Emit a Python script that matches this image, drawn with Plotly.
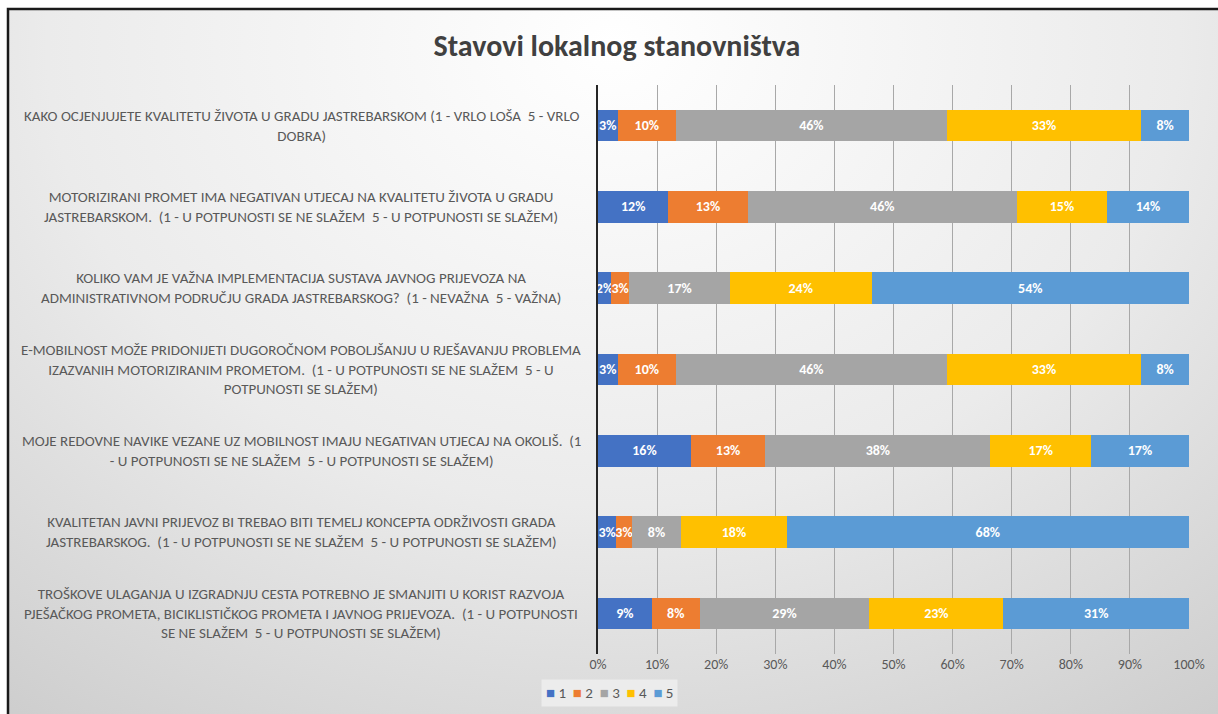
import base64
import plotly.graph_objects as go

# ---------------- data ----------------
questions = [
    "KAKO OCJENJUJETE KVALITETU ŽIVOTA U GRADU JASTREBARSKOM (1 - VRLO LOŠA  5 - VRLO<br>DOBRA)",
    "MOTORIZIRANI PROMET IMA NEGATIVAN UTJECAJ NA KVALITETU ŽIVOTA U GRADU<br>JASTREBARSKOM.  (1 - U POTPUNOSTI SE NE SLAŽEM  5 - U POTPUNOSTI SE SLAŽEM)",
    "KOLIKO VAM JE VAŽNA IMPLEMENTACIJA SUSTAVA JAVNOG PRIJEVOZA NA<br>ADMINISTRATIVNOM PODRUČJU GRADA JASTREBARSKOG?  (1 - NEVAŽNA  5 - VAŽNA)",
    "E-MOBILNOST MOŽE PRIDONIJETI DUGOROČNOM POBOLJŠANJU U RJEŠAVANJU PROBLEMA<br>IZAZVANIH MOTORIZIRANIM PROMETOM.  (1 - U POTPUNOSTI SE NE SLAŽEM  5 - U<br>POTPUNOSTI SE SLAŽEM)",
    "MOJE REDOVNE NAVIKE VEZANE UZ MOBILNOST IMAJU NEGATIVAN UTJECAJ NA OKOLIŠ.  (1<br>- U POTPUNOSTI SE NE SLAŽEM  5 - U POTPUNOSTI SE SLAŽEM)",
    "KVALITETAN JAVNI PRIJEVOZ BI TREBAO BITI TEMELJ KONCEPTA ODRŽIVOSTI GRADA<br>JASTREBARSKOG.  (1 - U POTPUNOSTI SE NE SLAŽEM  5 - U POTPUNOSTI SE SLAŽEM)",
    "TROŠKOVE ULAGANJA U IZGRADNJU CESTA POTREBNO JE SMANJITI U KORIST RAZVOJA<br>PJEŠAČKOG PROMETA, BICIKLISTIČKOG PROMETA I JAVNOG PRIJEVOZA.  (1 - U POTPUNOSTI<br>SE NE SLAŽEM  5 - U POTPUNOSTI SE SLAŽEM)",
]
series_names = ["1", "2", "3", "4", "5"]
ocjena_1 = [3.3, 11.9, 2.2, 3.3, 15.7, 3.1, 9.1]
ocjena_2 = [9.9, 13.4, 3.1, 9.9, 12.6, 2.6, 8.1]
ocjena_3 = [45.8, 45.6, 17.0, 45.8, 38.1, 8.4, 28.7]
ocjena_4 = [32.9, 15.2, 24.0, 32.9, 17.0, 17.8, 22.7]
ocjena_5 = [8.1, 13.9, 53.7, 8.1, 16.6, 68.1, 31.4]
tick_values = [0, 10, 20, 30, 40, 50, 60, 70, 80, 90, 100]
tick_labels = [f"{v}%" for v in tick_values]
title_text = "Stavovi lokalnog stanovništva"

# ---------------- style ----------------
colors = ["#4472C4", "#ED7D31", "#A5A5A5", "#FFC000", "#5B9BD5"]
FONT = "Carlito, Lato, 'Liberation Sans Narrow', sans-serif"
W, H = 1218, 714
ML, MR, MT, MB = 598, 29, 85, 60
PW, PH = W - ML - MR, H - MT - MB
FRAME_L, FRAME_R, FRAME_T = 8, 1230, 9


def px_x(px):
    return (px - ML) / PW


def px_y(py):
    return (H - MB - py) / PH


fig = go.Figure()
for name, vals, col in zip(series_names,
                           [ocjena_1, ocjena_2, ocjena_3, ocjena_4, ocjena_5],
                           colors):
    fig.add_trace(go.Bar(
        y=questions, x=vals, name=name, orientation="h",
        marker=dict(color=col, line=dict(width=0)),
        texttemplate="%{x:.0f}%", textposition="inside", textangle=0,
        insidetextanchor="middle", constraintext="none",
        textfont=dict(family=FONT, size=14, color="white", weight="bold"),
        hoverinfo="x+name", showlegend=False,
    ))

# background gradient inside the frame (decorative)
gw, gh = W - FRAME_L, H - FRAME_T
svg = (
    f'<svg xmlns="http://www.w3.org/2000/svg" width="{gw}" height="{gh}" preserveAspectRatio="none">'
    '<defs><radialGradient id="g" cx="0.5" cy="0.05" r="0.85" gradientTransform="translate(0.5 0.05) scale(1 1.4) translate(-0.5 -0.05)">'
    '<stop offset="0" stop-color="#ffffff"/><stop offset="0.55" stop-color="#ebebeb"/>'
    '<stop offset="1" stop-color="#cdcdcd"/></radialGradient></defs>'
    f'<rect width="{gw}" height="{gh}" fill="url(#g)"/></svg>'
)
src = "data:image/svg+xml;base64," + base64.b64encode(svg.encode()).decode()

annotations = [
    dict(text=q, xref="paper", yref="y", x=px_x(301), y=q, xanchor="center",
         yanchor="middle", align="center", showarrow=False,
         font=dict(family=FONT, size=15, color="#595959"))
    for q in questions
]

# compact legend (Excel style) built from series names and colours
legend_text = "  ".join(
    f"<span style='color:{c}'>■</span> {n}" for n, c in zip(series_names, colors)
)
annotations.append(dict(
    text=legend_text, xref="paper", yref="paper", x=px_x(541), y=px_y(693),
    xanchor="left", yanchor="middle", showarrow=False,
    bgcolor="rgba(240,240,240,0.8)", borderpad=4,
    font=dict(family=FONT, size=15, color="#595959"),
))

fig.update_layout(
    width=W, height=H,
    margin=dict(l=ML, r=MR, t=MT, b=MB, pad=0),
    barmode="stack", bargap=0.61,
    paper_bgcolor="#ffffff", plot_bgcolor="rgba(0,0,0,0)",
    font=dict(family=FONT, color="#595959", size=14),
    title=dict(text=title_text, x=px_x(617), xref="paper", xanchor="center",
               y=1 - 45 / H, yanchor="middle",
               font=dict(family=FONT, size=30, color="#404040", weight="bold")),
    uniformtext=dict(minsize=14, mode="show"),
    xaxis=dict(range=[0, 100], tickmode="array", tickvals=tick_values,
               ticktext=tick_labels,
               showgrid=True, gridcolor="#a8a8a8", gridwidth=1,
               zeroline=False, showline=False, ticks="",
               tickfont=dict(family=FONT, size=14, color="#595959"),
               fixedrange=True),
    yaxis=dict(autorange="reversed", showticklabels=False, showgrid=False,
               showline=True, linecolor="#262626", linewidth=2, ticks="",
               fixedrange=True),
    showlegend=False,
    annotations=annotations,
    images=[dict(source=src, xref="paper", yref="paper",
                 x=px_x(FRAME_L), y=px_y(FRAME_T),
                 sizex=px_x(W) - px_x(FRAME_L),
                 sizey=px_y(FRAME_T) - px_y(H), xanchor="left", yanchor="top",
                 sizing="stretch", layer="below")],
    shapes=[dict(type="rect", xref="paper", yref="paper",
                 x0=px_x(FRAME_L), x1=px_x(FRAME_R), y0=px_y(725), y1=px_y(FRAME_T),
                 line=dict(color="#1a1a1a", width=2.5), fillcolor="rgba(0,0,0,0)",
                 layer="above")],
)

fig.write_html("out.html", config={"displayModeBar": False},
               post_script="document.body.style.margin='0';document.body.style.overflow='hidden';")
